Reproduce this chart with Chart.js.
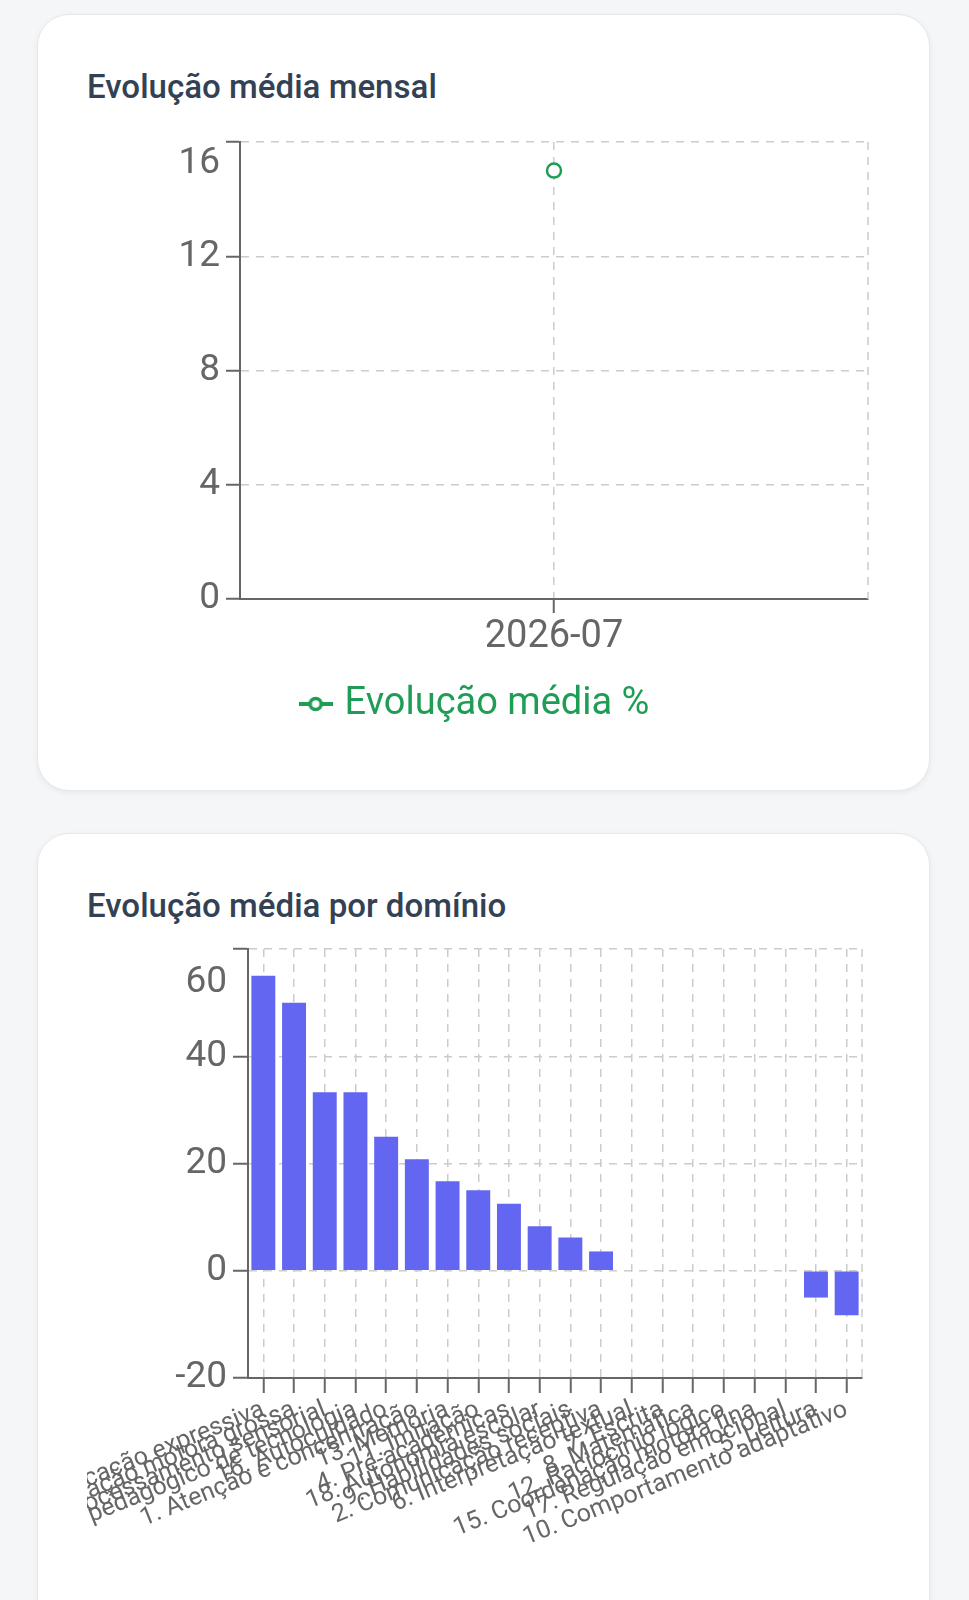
<!DOCTYPE html>
<html lang="pt-BR">
<head>
<meta charset="utf-8">
<title>Evolução</title>
<script src="https://cdn.jsdelivr.net/npm/chart.js@4.4.1/dist/chart.umd.min.js"></script>
<style>
  html, body { margin: 0; padding: 0; background: #f5f6f8; }
  body { width: 969px; height: 1600px; overflow: hidden; position: relative; font-family: Roboto, sans-serif; }
  .card {
    position: absolute; left: 37px; width: 893px; box-sizing: border-box;
    background: #fff; border: 1px solid #e6e8ec; border-radius: 32px;
    box-shadow: 0 2px 6px rgba(0, 0, 0, 0.06);
  }
  #card1 { top: 14px; height: 777px; }
  #card2 { top: 833px; height: 820px; }
  .card h2 {
    position: absolute; left: 49px; top: 55px; margin: 0;
    font-family: 'Roboto Medium', Roboto, sans-serif;
    font-size: 33px; line-height: 33px; font-weight: 400; color: #334155;
  }
  .box { position: absolute; left: 49px; width: 793px; }
  #box1 { top: 105px; height: 613px; }
  #box2 { top: 96px; height: 640px; }
</style>
</head>
<body>
<div class="card" id="card1">
  <h2>Evolução média mensal</h2>
  <div class="box" id="box1"><canvas id="monthly"></canvas></div>
</div>
<div class="card" id="card2">
  <h2>Evolução média por domínio</h2>
  <div class="box" id="box2"><canvas id="domains"></canvas></div>
</div>
<script>
// evolução mensal
const months = ['2026-07'];
const monthlyAvg = [15];
const monthlyTicks = [0, 4, 8, 12, 16];

// evolução por domínio
const domains = [
  '3. Comunicação expressiva',
  '14. Coordenação motora grossa',
  '19. Processamento sensorial',
  '20. Uso pedagógico de tecnologia',
  '16. Autocuidado',
  '1. Atenção e concentração',
  '13. Memória',
  '11. Imitação',
  '4. Pré-acadêmicas',
  '18. Autonomia escolar',
  '9. Habilidades sociais',
  '2. Comunicação receptiva',
  '6. Interpretação textual',
  '7. Escrita',
  '8. Matemática',
  '12. Raciocínio lógico',
  '15. Coordenação motora fina',
  '17. Regulação emocional',
  '5. Leitura',
  '10. Comportamento adaptativo'
];
const domainAvg = [55, 50, 33.3, 33.3, 25, 20.8, 16.7, 15, 12.5, 8.3, 6.2, 3.6, 0, 0, 0, 0, 0, 0, -5, -8.3];
const domainTicks = [-20, 0, 20, 40, 60];

const green = '#1f9d55';
const indigo = '#6366f1';
const axisColor = '#666666';
const gridColor = '#cccccc';

Chart.defaults.font.family = 'Roboto, sans-serif';

// linha tracejada na borda direita da área do gráfico
const rightEdge = {
  id: 'rightEdge',
  beforeDatasetsDraw(chart) {
    const { ctx, chartArea } = chart;
    ctx.save();
    ctx.strokeStyle = gridColor;
    ctx.lineWidth = 1.5;
    ctx.setLineDash([8, 7]);
    ctx.beginPath();
    ctx.moveTo(chartArea.right, chartArea.top);
    ctx.lineTo(chartArea.right, chartArea.bottom);
    ctx.stroke();
    ctx.restore();
  }
};

// ícone da legenda: linha com círculo vazado
function legendIcon(color) {
  const c = document.createElement('canvas');
  c.width = 34;
  c.height = 18;
  const g = c.getContext('2d');
  g.strokeStyle = color;
  g.lineWidth = 4;
  g.beginPath(); g.moveTo(0, 9); g.lineTo(34, 9); g.stroke();
  g.beginPath(); g.arc(17, 9, 5.5, 0, Math.PI * 2);
  g.fillStyle = '#fff'; g.fill();
  g.lineWidth = 3.5; g.stroke();
  return c;
}

function gridOpts(tickLength) {
  return {
    color: gridColor, lineWidth: 1.5,
    tickColor: axisColor, tickWidth: 2, tickLength: tickLength, tickBorderDash: []
  };
}
const borderOpts = { color: axisColor, width: 2, dash: [8, 7] };

// rótulo do topo desce um pouco (linhas vazias antes do número)
function topShift(top, blanks) {
  return v => v === top ? Array(blanks).fill('').concat(String(v)) : String(v);
}

new Chart(document.getElementById('monthly'), {
  type: 'line',
  data: {
    labels: months,
    datasets: [{
      label: 'Evolução média %',
      data: monthlyAvg,
      borderColor: green,
      borderWidth: 3,
      backgroundColor: '#fff',
      pointBackgroundColor: '#fff',
      pointBorderColor: green,
      pointBorderWidth: 2.5,
      pointRadius: 7
    }]
  },
  options: {
    responsive: true,
    maintainAspectRatio: false,
    animation: false,
    layout: { padding: { top: 22, right: 12, left: 0, bottom: 0 } },
    plugins: {
      tooltip: { enabled: false },
      legend: {
        position: 'bottom',
        labels: {
          usePointStyle: true,
          pointStyle: legendIcon(green),
          pointStyleWidth: 20,
          color: green,
          font: { size: 38 },
          padding: 10
        }
      }
    },
    scales: {
      x: {
        offset: true,
        grid: Object.assign(gridOpts(14), { offset: false }),
        border: borderOpts,
        ticks: { color: axisColor, font: { size: 38 }, padding: 2 },
        afterFit: s => { s.height = 76; s.paddingLeft = 0; s.paddingRight = 0; }
      },
      y: {
        min: 0,
        max: 16,
        afterBuildTicks: s => { s.ticks = monthlyTicks.map(v => ({ value: v })); },
        grid: gridOpts(14),
        border: borderOpts,
        ticks: { color: axisColor, font: { size: 37, lineHeight: 1.2 }, padding: 6, callback: topShift(16, 1) },
        afterFit: s => { s.width = 153; s.paddingTop = 0; s.paddingBottom = 0; }
      }
    }
  },
  plugins: [rightEdge]
});

new Chart(document.getElementById('domains'), {
  type: 'bar',
  data: {
    labels: domains,
    datasets: [{
      label: 'Evolução média %',
      data: domainAvg,
      backgroundColor: indigo,
      barPercentage: 0.78,
      categoryPercentage: 1
    }]
  },
  options: {
    responsive: true,
    maintainAspectRatio: false,
    animation: false,
    layout: { padding: { top: 19, right: 18, left: 0, bottom: 0 } },
    plugins: {
      tooltip: { enabled: false },
      legend: { display: false }
    },
    scales: {
      x: {
        grid: Object.assign(gridOpts(15), { offset: false }),
        border: borderOpts,
        ticks: {
          color: axisColor, font: { size: 25 }, padding: 2,
          autoSkip: false, minRotation: 22, maxRotation: 22
        },
        afterFit: s => { s.height = 192; s.paddingLeft = 0; s.paddingRight = 0; }
      },
      y: {
        min: -20,
        max: 60,
        afterBuildTicks: s => { s.ticks = domainTicks.map(v => ({ value: v })); },
        grid: gridOpts(15),
        border: borderOpts,
        ticks: { color: axisColor, font: { size: 37, lineHeight: 0.9 }, padding: 6, callback: topShift(60, 2) },
        afterFit: s => { s.width = 161; s.paddingTop = 0; s.paddingBottom = 0; }
      }
    }
  },
  plugins: [rightEdge]
});
</script>
</body>
</html>
